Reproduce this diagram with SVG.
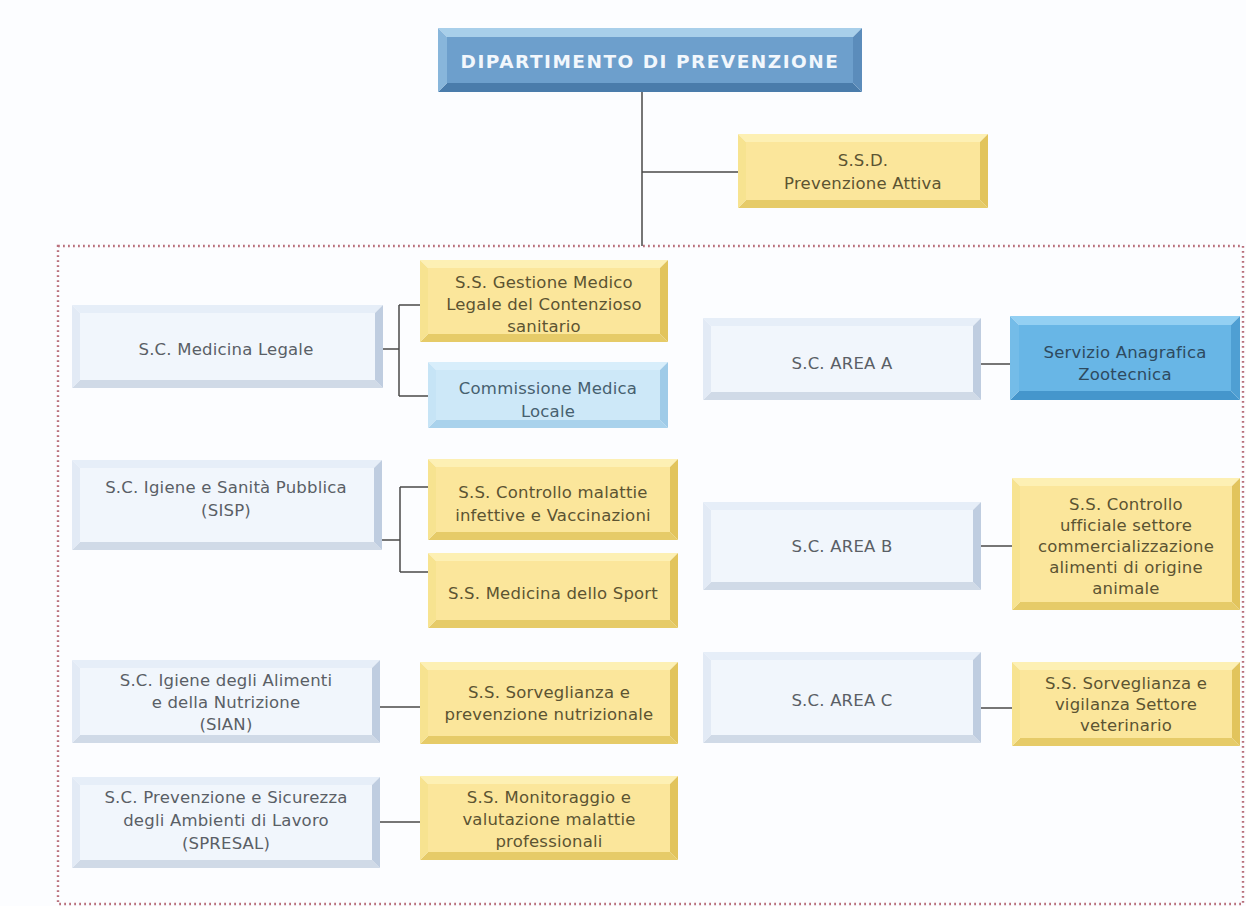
<svg xmlns="http://www.w3.org/2000/svg" width="1246" height="906" viewBox="0 0 1246 906">
<style>
text{font-family:"DejaVu Sans","Liberation Sans",sans-serif;font-size:16.5px;letter-spacing:0.2px;text-anchor:middle}
.con path,.con{fill:none;stroke:#4a4a4a;stroke-width:1.5}
.sc .t{fill:#e6eef8}.sc .b{fill:#d0dae7}.sc .l{fill:#e2eaf5}.sc .r{fill:#bfcde0}.sc .f{fill:#f1f6fc}.sc text{fill:#5a5f66}
.ss .t{fill:#fdf0b4}.ss .b{fill:#e6cb68}.ss .l{fill:#f7e390}.ss .r{fill:#e2c45c}.ss .f{fill:#fbe69b}.ss text{fill:#5c5432}
.lb .t{fill:#d8eefb}.lb .b{fill:#a9d2ec}.lb .l{fill:#c6e4f6}.lb .r{fill:#9fcbe8}.lb .f{fill:#cde8f8}.lb text{fill:#46606f}
.mb .t{fill:#93d0f3}.mb .b{fill:#4596cc}.mb .l{fill:#74bce8}.mb .r{fill:#4f9fd3}.mb .f{fill:#68b6e6}.mb text{fill:#2e4a60}
.hd .t{fill:#a8cfea}.hd .b{fill:#4a7cab}.hd .l{fill:#88b6db}.hd .r{fill:#5b8cbb}.hd .f{fill:#6d9fcc}
.hd text{fill:#f2f7fc;font-weight:bold;font-size:18.5px;letter-spacing:1.5px}
</style>
<rect x="0" y="0" width="1246" height="906" fill="#fcfdff"/>
<rect x="58" y="246" width="1185" height="658" fill="none" stroke="#b9707c" stroke-width="2.4" stroke-dasharray="1.8 3.2"/>
<g class="con" id="connectors">
<path d="M642 92V246M642 172H738"/>
<path d="M383 349H399M399 305V396M399 305H420M399 396H428"/>
<path d="M382 540H400M400 487V572M400 487H428M400 572H428"/>
<path d="M380 707H420M380 822H420"/>
<path d="M981 364H1010M981 546H1012M981 708H1012"/>
</g>
<g id="dipartimento" class="hd">
<polygon class="t" points="438,28 862,28 853,37 447,37"/><polygon class="b" points="438,92 862,92 853,83 447,83"/><polygon class="l" points="438,28 447,37 447,83 438,92"/><polygon class="r" points="862,28 853,37 853,83 862,92"/><rect class="f" x="447" y="37" width="406" height="46"/>
<text x="650" y="68">DIPARTIMENTO DI PREVENZIONE</text>
</g>
<g id="ssd" class="ss">
<polygon class="t" points="738,134 988,134 980,142 746,142"/><polygon class="b" points="738,208 988,208 980,200 746,200"/><polygon class="l" points="738,134 746,142 746,200 738,208"/><polygon class="r" points="988,134 980,142 980,200 988,208"/><rect class="f" x="746" y="142" width="234" height="58"/>
<text x="863" y="166">S.S.D.</text><text x="863" y="189">Prevenzione Attiva</text>
</g>
<g id="medicina-legale" class="sc">
<polygon class="t" points="72,305 383,305 375,313 80,313"/><polygon class="b" points="72,388 383,388 375,380 80,380"/><polygon class="l" points="72,305 80,313 80,380 72,388"/><polygon class="r" points="383,305 375,313 375,380 383,388"/><rect class="f" x="80" y="313" width="295" height="67"/>
<text x="226" y="355">S.C. Medicina Legale</text>
</g>
<g id="gestione" class="ss">
<polygon class="t" points="420,260 668,260 660,268 428,268"/><polygon class="b" points="420,342 668,342 660,334 428,334"/><polygon class="l" points="420,260 428,268 428,334 420,342"/><polygon class="r" points="668,260 660,268 660,334 668,342"/><rect class="f" x="428" y="268" width="232" height="66"/>
<text x="544" y="288">S.S. Gestione Medico</text><text x="544" y="310">Legale del Contenzioso</text><text x="544" y="332">sanitario</text>
</g>
<g id="commissione" class="lb">
<polygon class="t" points="428,362 668,362 660,370 436,370"/><polygon class="b" points="428,428 668,428 660,420 436,420"/><polygon class="l" points="428,362 436,370 436,420 428,428"/><polygon class="r" points="668,362 660,370 660,420 668,428"/><rect class="f" x="436" y="370" width="224" height="50"/>
<text x="548" y="394">Commissione Medica</text><text x="548" y="417">Locale</text>
</g>
<g id="sisp" class="sc">
<polygon class="t" points="72,460 382,460 374,468 80,468"/><polygon class="b" points="72,550 382,550 374,542 80,542"/><polygon class="l" points="72,460 80,468 80,542 72,550"/><polygon class="r" points="382,460 374,468 374,542 382,550"/><rect class="f" x="80" y="468" width="294" height="74"/>
<text x="226" y="493">S.C. Igiene e Sanità Pubblica</text><text x="226" y="516">(SISP)</text>
</g>
<g id="controllo-malattie" class="ss">
<polygon class="t" points="428,459 678,459 670,467 436,467"/><polygon class="b" points="428,540 678,540 670,532 436,532"/><polygon class="l" points="428,459 436,467 436,532 428,540"/><polygon class="r" points="678,459 670,467 670,532 678,540"/><rect class="f" x="436" y="467" width="234" height="65"/>
<text x="553" y="498">S.S. Controllo malattie</text><text x="553" y="521">infettive e Vaccinazioni</text>
</g>
<g id="sport" class="ss">
<polygon class="t" points="428,553 678,553 670,561 436,561"/><polygon class="b" points="428,628 678,628 670,620 436,620"/><polygon class="l" points="428,553 436,561 436,620 428,628"/><polygon class="r" points="678,553 670,561 670,620 678,628"/><rect class="f" x="436" y="561" width="234" height="59"/>
<text x="553" y="599">S.S. Medicina dello Sport</text>
</g>
<g id="sian" class="sc">
<polygon class="t" points="72,660 380,660 372,668 80,668"/><polygon class="b" points="72,743 380,743 372,735 80,735"/><polygon class="l" points="72,660 80,668 80,735 72,743"/><polygon class="r" points="380,660 372,668 372,735 380,743"/><rect class="f" x="80" y="668" width="292" height="67"/>
<text x="226" y="686">S.C. Igiene degli Alimenti</text><text x="226" y="708">e della Nutrizione</text><text x="226" y="730">(SIAN)</text>
</g>
<g id="sorveglianza-nutrizionale" class="ss">
<polygon class="t" points="420,662 678,662 670,670 428,670"/><polygon class="b" points="420,744 678,744 670,736 428,736"/><polygon class="l" points="420,662 428,670 428,736 420,744"/><polygon class="r" points="678,662 670,670 670,736 678,744"/><rect class="f" x="428" y="670" width="242" height="66"/>
<text x="549" y="698">S.S. Sorveglianza e</text><text x="549" y="720">prevenzione nutrizionale</text>
</g>
<g id="spresal" class="sc">
<polygon class="t" points="72,777 380,777 372,785 80,785"/><polygon class="b" points="72,868 380,868 372,860 80,860"/><polygon class="l" points="72,777 80,785 80,860 72,868"/><polygon class="r" points="380,777 372,785 372,860 380,868"/><rect class="f" x="80" y="785" width="292" height="75"/>
<text x="226" y="803">S.C. Prevenzione e Sicurezza</text><text x="226" y="826">degli Ambienti di Lavoro</text><text x="226" y="849">(SPRESAL)</text>
</g>
<g id="monitoraggio" class="ss">
<polygon class="t" points="420,776 678,776 670,784 428,784"/><polygon class="b" points="420,860 678,860 670,852 428,852"/><polygon class="l" points="420,776 428,784 428,852 420,860"/><polygon class="r" points="678,776 670,784 670,852 678,860"/><rect class="f" x="428" y="784" width="242" height="68"/>
<text x="549" y="803">S.S. Monitoraggio e</text><text x="549" y="825">valutazione malattie</text><text x="549" y="847">professionali</text>
</g>
<g id="area-a" class="sc">
<polygon class="t" points="703,318 981,318 973,326 711,326"/><polygon class="b" points="703,400 981,400 973,392 711,392"/><polygon class="l" points="703,318 711,326 711,392 703,400"/><polygon class="r" points="981,318 973,326 973,392 981,400"/><rect class="f" x="711" y="326" width="262" height="66"/>
<text x="842" y="369">S.C. AREA A</text>
</g>
<g id="anagrafica" class="mb">
<polygon class="t" points="1010,316 1240,316 1231,325 1019,325"/><polygon class="b" points="1010,400 1240,400 1231,391 1019,391"/><polygon class="l" points="1010,316 1019,325 1019,391 1010,400"/><polygon class="r" points="1240,316 1231,325 1231,391 1240,400"/><rect class="f" x="1019" y="325" width="212" height="66"/>
<text x="1125" y="358">Servizio Anagrafica</text><text x="1125" y="380">Zootecnica</text>
</g>
<g id="area-b" class="sc">
<polygon class="t" points="703,502 981,502 973,510 711,510"/><polygon class="b" points="703,590 981,590 973,582 711,582"/><polygon class="l" points="703,502 711,510 711,582 703,590"/><polygon class="r" points="981,502 973,510 973,582 981,590"/><rect class="f" x="711" y="510" width="262" height="72"/>
<text x="842" y="552">S.C. AREA B</text>
</g>
<g id="controllo-ufficiale" class="ss">
<polygon class="t" points="1012,478 1240,478 1232,486 1020,486"/><polygon class="b" points="1012,610 1240,610 1232,602 1020,602"/><polygon class="l" points="1012,478 1020,486 1020,602 1012,610"/><polygon class="r" points="1240,478 1232,486 1232,602 1240,610"/><rect class="f" x="1020" y="486" width="212" height="116"/>
<text x="1126" y="510">S.S. Controllo</text><text x="1126" y="531">ufficiale settore</text><text x="1126" y="552">commercializzazione</text><text x="1126" y="573">alimenti di origine</text><text x="1126" y="594">animale</text>
</g>
<g id="area-c" class="sc">
<polygon class="t" points="703,652 981,652 973,660 711,660"/><polygon class="b" points="703,743 981,743 973,735 711,735"/><polygon class="l" points="703,652 711,660 711,735 703,743"/><polygon class="r" points="981,652 973,660 973,735 981,743"/><rect class="f" x="711" y="660" width="262" height="75"/>
<text x="842" y="706">S.C. AREA C</text>
</g>
<g id="sorveglianza-vigilanza" class="ss">
<polygon class="t" points="1012,662 1240,662 1232,670 1020,670"/><polygon class="b" points="1012,746 1240,746 1232,738 1020,738"/><polygon class="l" points="1012,662 1020,670 1020,738 1012,746"/><polygon class="r" points="1240,662 1232,670 1232,738 1240,746"/><rect class="f" x="1020" y="670" width="212" height="68"/>
<text x="1126" y="689">S.S. Sorveglianza e</text><text x="1126" y="710">vigilanza Settore</text><text x="1126" y="731">veterinario</text>
</g>
</svg>
